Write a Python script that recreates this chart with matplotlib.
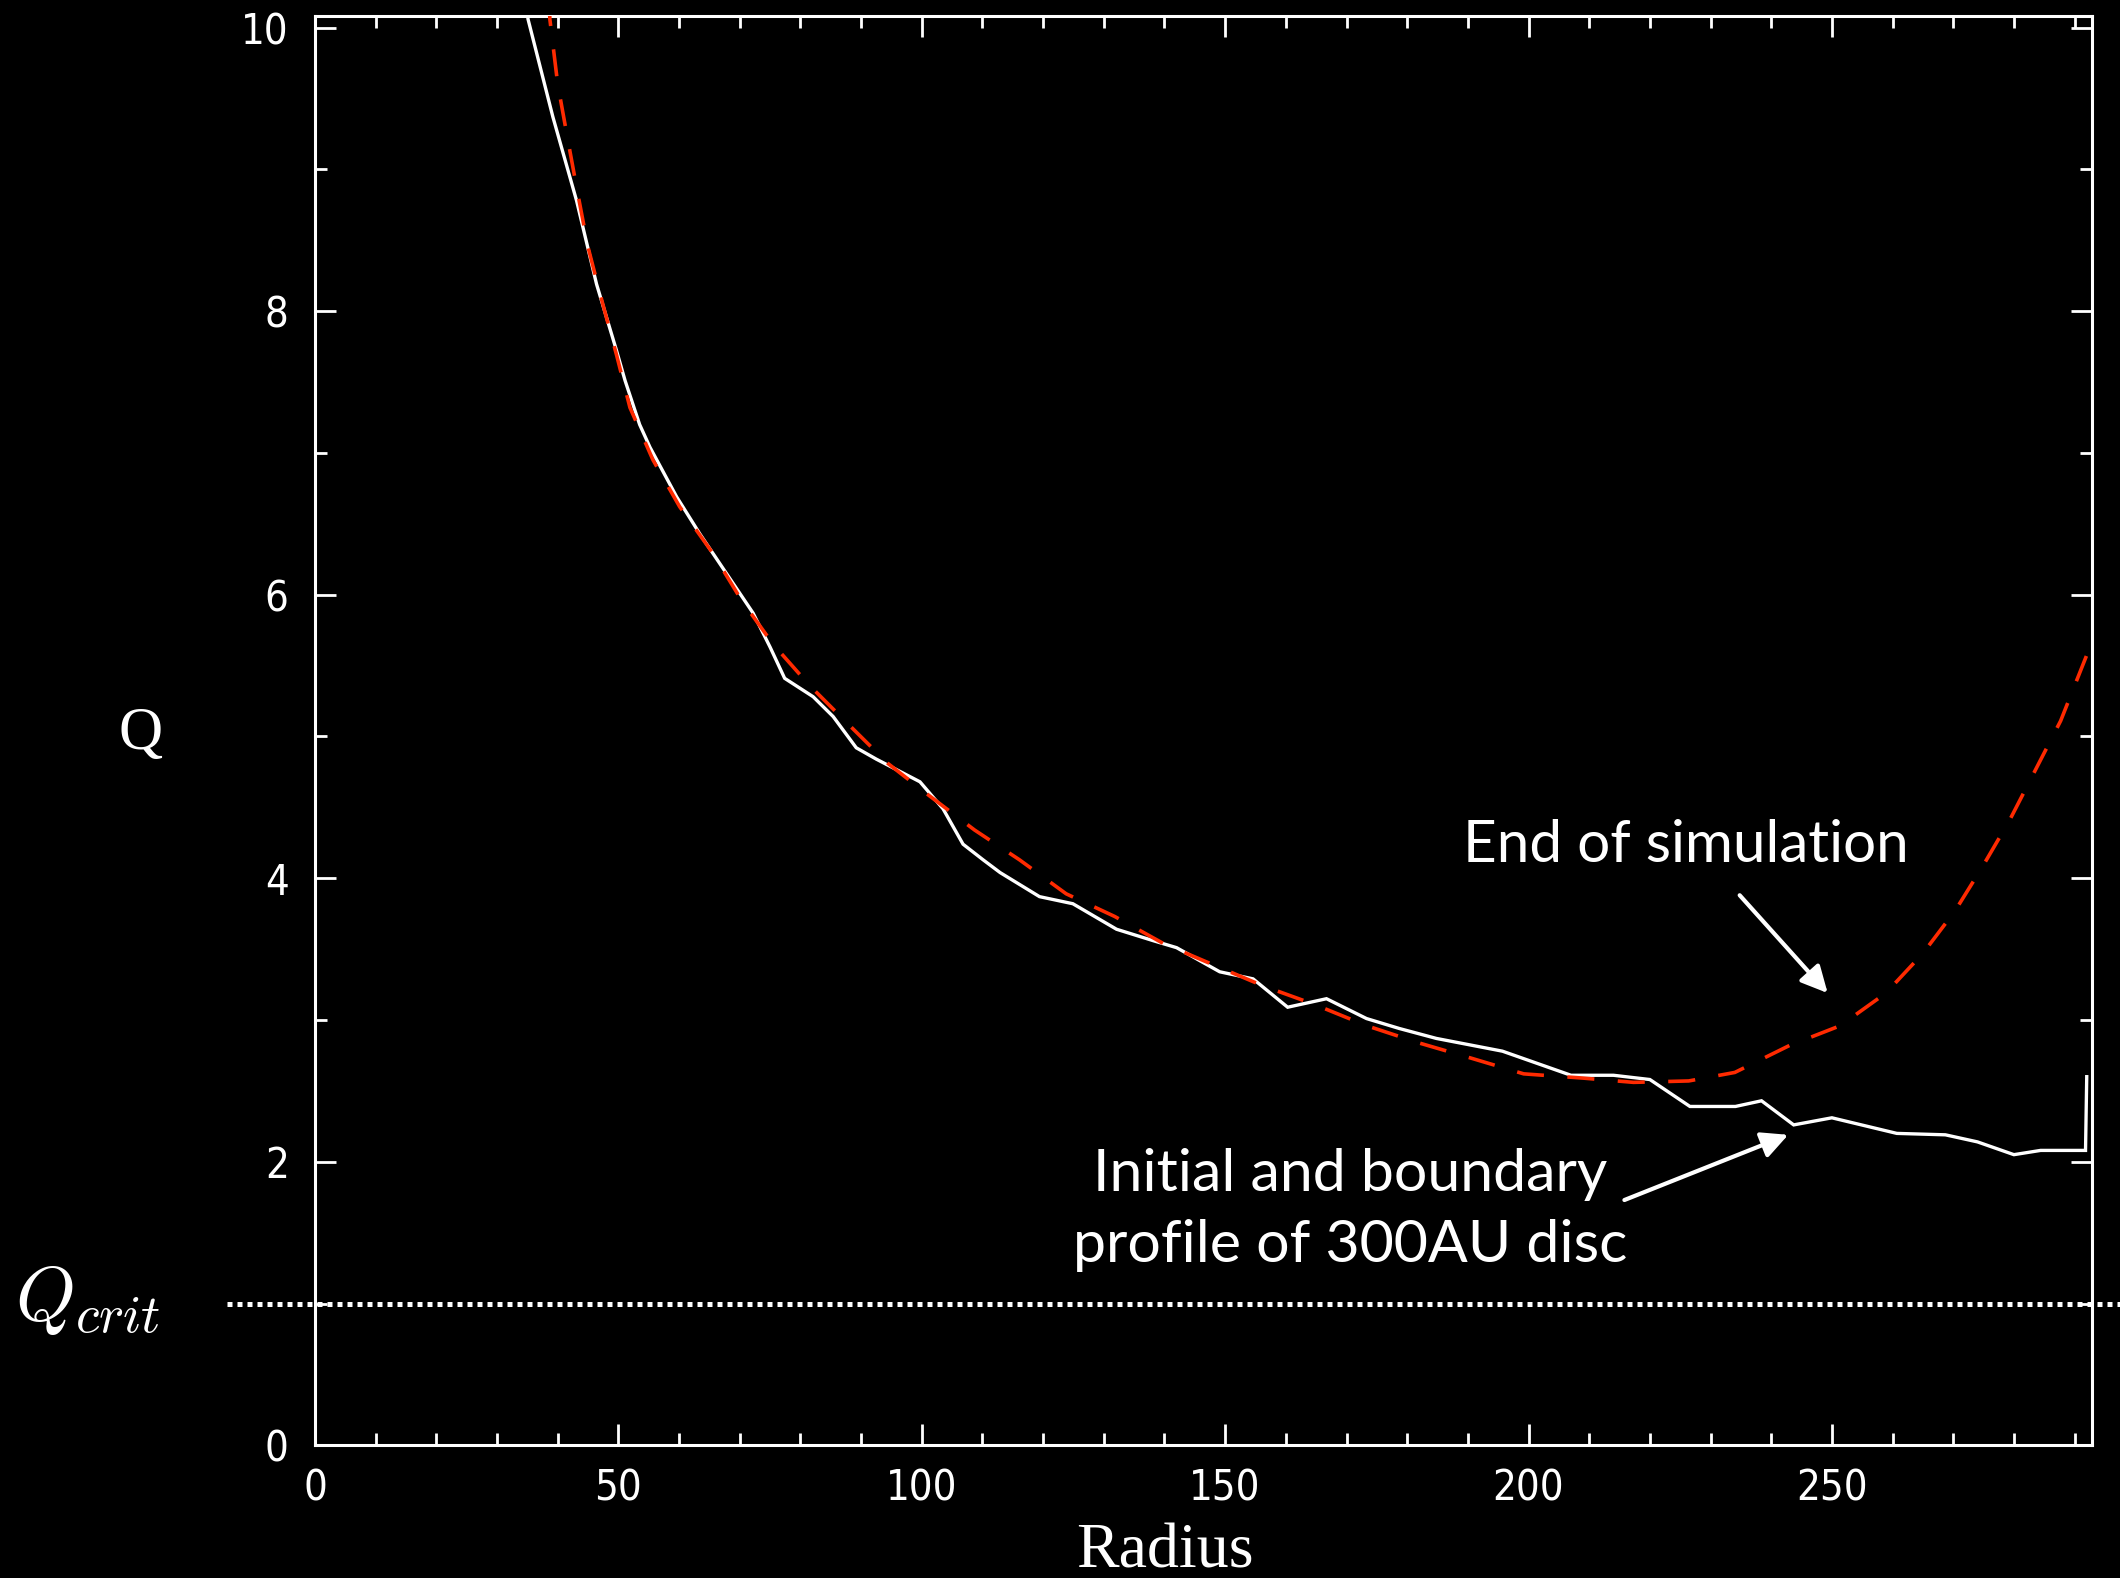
import matplotlib
matplotlib.use("Agg")
import matplotlib.pyplot as plt
from matplotlib import font_manager
from matplotlib.ticker import MultipleLocator

# initial / boundary Q profile (white solid)
r_init = [34.6, 35.1, 39.2, 43.1, 46.4, 49.7, 51.1, 53.5, 55.2, 59.6, 63.4, 67.8,
          72.2, 75.0, 77.4, 82.1, 85.4, 89.2, 92.5, 99.7, 103.5, 106.8, 110.1,
          112.9, 119.4, 124.9, 132.1, 138.1, 142.0, 149.1, 154.6, 160.3, 166.7,
          173.3, 178.7, 184.8, 195.7, 207.0, 214.0, 220.0, 226.6, 234.1, 238.4,
          243.7, 250.0, 260.7, 268.7, 274.0, 280.0, 284.4, 291.8, 292.0]
q_init = [10.3, 10.06, 9.37, 8.78, 8.19, 7.72, 7.51, 7.2, 7.04, 6.69, 6.43, 6.15,
          5.87, 5.63, 5.41, 5.28, 5.14, 4.92, 4.84, 4.68, 4.49, 4.24, 4.13,
          4.04, 3.87, 3.82, 3.64, 3.56, 3.51, 3.34, 3.29, 3.09, 3.15,
          3.01, 2.94, 2.87, 2.78, 2.61, 2.61, 2.58, 2.39, 2.39, 2.43,
          2.26, 2.31, 2.20, 2.19, 2.14, 2.05, 2.08, 2.08, 2.60]

# end of simulation (red dashed)
r_end = [38.5, 38.7, 40.0, 41.7, 43.3, 45.0, 47.3, 49.7, 51.9, 55.7, 60.1, 65.6,
         70.3, 75.5, 81.5, 87.8, 94.4, 101.3, 108.7, 116.1, 123.8, 131.8, 139.8,
         148.0, 156.3, 164.7, 173.3, 181.8, 190.6, 199.2, 209.0, 217.3, 226.4,
         234.0, 243.0, 251.4, 258.9, 265.0, 270.3, 274.8, 279.3, 283.5, 287.7,
         292.8]
q_end = [10.3, 10.06, 9.6, 9.2, 8.83, 8.45, 8.07, 7.69, 7.32, 6.95, 6.62, 6.29,
         5.96, 5.65, 5.36, 5.09, 4.81, 4.58, 4.34, 4.13, 3.89, 3.73, 3.54,
         3.39, 3.24, 3.11, 2.96, 2.84, 2.73, 2.62, 2.59, 2.56, 2.57,
         2.63, 2.82, 2.96, 3.19, 3.47, 3.77, 4.08, 4.41, 4.76, 5.11,
         5.66]

Q_CRIT = 1.0

names = {f.name for f in font_manager.fontManager.ttflist}
tick_font = "Liberation Sans Narrow" if "Liberation Sans Narrow" in names else "DejaVu Sans"
note_font = "Lato"
serif_font = "Liberation Serif"

plt.rcParams["mathtext.fontset"] = "cm"

fig = plt.figure(figsize=(21.2, 15.78), dpi=100, facecolor="black")
ax = fig.add_axes([0.1486, 0.0841, 0.838, 0.9056], facecolor="black")

ax.plot(r_init, q_init, color="white", lw=2.4, solid_joinstyle="miter", zorder=3)
ax.plot(r_end, q_end, color="#ff2a00", lw=2.6, linestyle=(0, (7.5, 6.5)), zorder=4)

ax.axhline(Q_CRIT, xmin=-0.0495, xmax=1.02, color="white", lw=3.6,
           linestyle=(0, (1, 1)), clip_on=False, zorder=2)

ax.set_xlim(0, 292.8)
ax.set_ylim(0, 10.08)
ax.xaxis.set_major_locator(MultipleLocator(50))
ax.xaxis.set_minor_locator(MultipleLocator(10))
ax.yaxis.set_major_locator(MultipleLocator(2))
ax.yaxis.set_minor_locator(MultipleLocator(1))

for s in ax.spines.values():
    s.set_color("white")
    s.set_linewidth(2.2)

ax.tick_params(which="both", direction="in", top=True, right=True,
               colors="white", width=2)
ax.tick_params(which="major", length=15)
ax.tick_params(which="minor", length=8.5)
ax.tick_params(axis="x", pad=16)
ax.tick_params(axis="y", pad=19)
for lab in ax.get_xticklabels() + ax.get_yticklabels():
    lab.set_fontfamily(tick_font)
    lab.set_fontstretch("condensed")
    lab.set_fontsize(30)
    lab.set_color("white")

fig.text(0.0665, 0.535, "Q", family=serif_font, fontsize=44, color="white",
         ha="center", va="center")
fig.text(0.5495, 0.016, "Radius", family=serif_font, fontsize=46, color="white",
         ha="center", va="center")
fig.text(0.0415, 0.176, r"$Q_{crit}$", fontsize=55, color="white",
         ha="center", va="center")

arrow = dict(arrowstyle="-|>", color="white", lw=3, mutation_scale=40,
             shrinkA=0, shrinkB=0)
ax.annotate("", xy=(249.3, 3.19), xytext=(234.8, 3.88), arrowprops=arrow)
ax.annotate("", xy=(242.8, 2.19), xytext=(215.8, 1.73), arrowprops=arrow)

ax.text(225.9, 4.23, "End of simulation", family=note_font, fontsize=42,
        color="white", ha="center", va="center")
ax.text(170.6, 1.66, "Initial and boundary\nprofile of 300AU disc",
        family=note_font, fontsize=42.5, color="white", ha="center",
        va="center", linespacing=1.4)

fig.savefig("out.png", dpi=100, facecolor="black")
